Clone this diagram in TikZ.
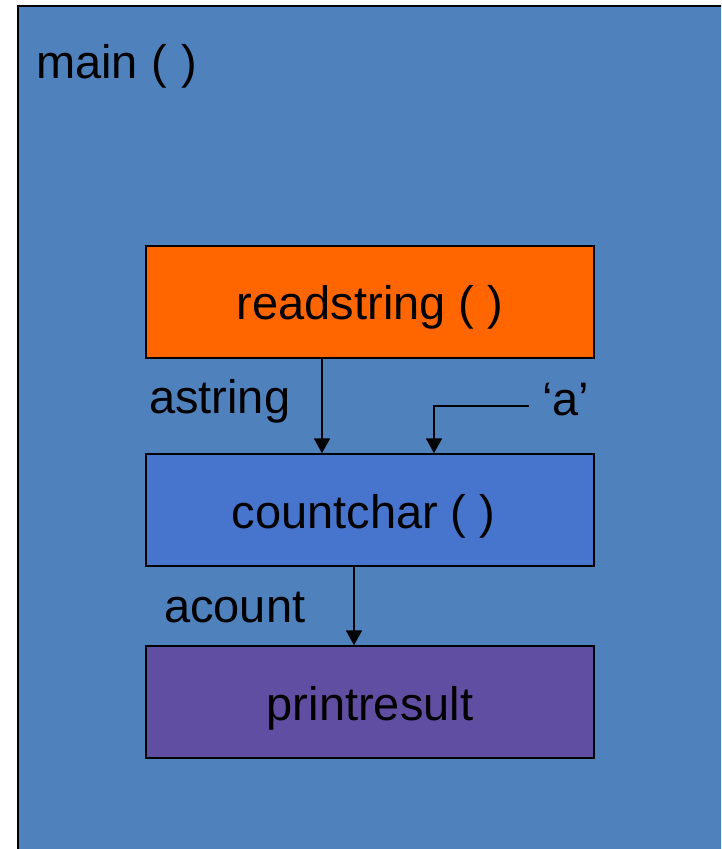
\documentclass[tikz,border=0pt]{standalone}
\usepackage{fontspec}
\setmainfont{Liberation Sans}
\usetikzlibrary{arrows.meta}
\definecolor{mainblue}{HTML}{4F81BD}
\definecolor{rsorange}{HTML}{FF6600}
\definecolor{ccblue}{HTML}{4775CD}
\definecolor{prpurple}{HTML}{604EA3}
\begin{document}
\begin{tikzpicture}[x=1pt,y=-1pt,
  bigfont/.style={font=\fontsize{47}{56}\selectfont},
  fnbox/.style={draw=black,line width=2pt,minimum width=448pt,minimum height=111.5pt,
    inner sep=0pt,text height=46pt,text depth=10pt,bigfont},
  lbl/.style={anchor=base west,inner sep=0pt,bigfont},
  flow/.style={draw=black,line width=2pt,-{Triangle[width=16pt,length=15pt]}}]
\useasboundingbox (0,0) rectangle (721,849);
\clip (0,0) rectangle (721,849);
\filldraw[fill=mainblue,draw=black,line width=2.5pt] (18,6) rectangle (780,900);
\node[lbl] (mainlbl) at (36,78) {main (\hspace{15pt})};
\node[fnbox,fill=rsorange] (rs) at (370,301.8) {readstring ( )};
\node[fnbox,fill=ccblue] (cc) at (370,510) {countchar ( )\hspace*{13pt}};
\node[fnbox,fill=prpurple] (pr) at (370,702) {printresult};
\node[lbl] (astr) at (149,413) {astring};
\node[lbl] (qa) at (542,415) {‘a’};
\node[lbl] (acnt) at (164,622) {acount};
\coordinate (qs) at (529,405.7);
\draw[flow] ([xshift=-48pt]rs.south) -- ([xshift=-48pt]cc.north);
\draw[flow] (qs) -| ([xshift=64pt]cc.north);
\draw[flow] ([xshift=-16pt]cc.south) -- ([xshift=-16pt]pr.north);
\end{tikzpicture}
\end{document}
